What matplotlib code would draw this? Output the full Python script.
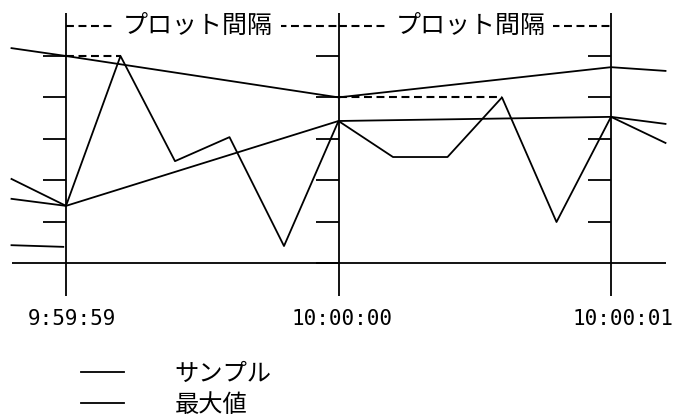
import matplotlib
matplotlib.use('Agg')
import matplotlib.pyplot as plt
import numpy as np

plt.rcParams['font.family'] = ['Noto Sans CJK JP', 'DejaVu Sans']

# ---- data (time in seconds from 9:59:59, value in tick levels) ----
tick_times = [0.0, 1.0, 2.0]
tick_labels = ['9:59:59', '10:00:00', '10:00:01']
sample_times = [-0.2, 0.0, 0.2, 0.4, 0.6, 0.8, 1.0, 1.2, 1.4, 1.6, 1.8, 2.0, 2.2]
sample_values = [2.03, 1.38, 5.0, 2.46, 3.04, 0.41, 3.43, 2.56, 2.56, 4.0, 0.99, 3.53, 2.9]
max_times = [-0.2, 0.0, 1.0, 2.0, 2.2]
max_values = [5.19, 5.0, 4.0, 4.73, 4.64]
plotted_times = [-0.2, 0.0, 1.0, 2.0, 2.2]
plotted_values = [1.55, 1.38, 3.43, 3.53, 3.36]
prev_times = [-0.2, -0.01]
prev_values = [0.43, 0.39]
levels = [0, 1, 2, 3, 4, 5]
interval_label = 'プロット間隔'
legend_labels = ['サンプル', '最大値']

# ---- figure ----
W, H = 675, 418
fig = plt.figure(figsize=(W / 100, H / 100), dpi=100)
ax = fig.add_axes([0, 0, 1, 1])
ax.axis('off')
px_per_s = 272.5
px_per_lvl = 41.4
x0_px, y0_px = 66, 263
ax.set_xlim(-x0_px / px_per_s, (W - x0_px) / px_per_s)
ax.set_ylim((y0_px - H) / px_per_lvl, y0_px / px_per_lvl)

lw = 1.3
col = 'black'
st = np.array(sample_times)
sv = np.array(sample_values)

# baseline
ax.hlines(levels[0], st.min(), st.max(), color=col, lw=lw)

# vertical interval lines (extend below baseline as x ticks)
header_level = 5.72
ax.vlines(tick_times, -0.8, 6.04, color=col, lw=lw)

# y ticks: short segments left of each vertical line
tick_len = 23 / px_per_s
for i, t in enumerate(tick_times):
    lv = levels if i == 1 else levels[1:]
    ax.hlines(lv, t - tick_len, t, color=col, lw=lw)

# series
l_sample, = ax.plot(sample_times, sample_values, color=col, lw=lw)
l_max, = ax.plot(max_times, max_values, color=col, lw=lw)
ax.plot(plotted_times, plotted_values, color=col, lw=lw)
ax.plot(prev_times, prev_values, color=col, lw=lw)

# dashed marker from interval start to interval max sample
dash = (0, (3.8, 2.2))
dlw = 1.5
for a, b in zip(tick_times[:-1], tick_times[1:]):
    m = (st >= a - 1e-9) & (st < b - 1e-9)
    k = np.argmax(sv[m])
    ax.hlines(sv[m][k], a, st[m][k], color=col, lw=dlw, linestyles=dash)

# header: dashed span with label
for a, b in zip(tick_times[:-1], tick_times[1:]):
    ax.hlines(header_level, a, b, color=col, lw=dlw, linestyles=dash)
    ax.annotate(interval_label, xy=((a + b) / 2, header_level), xytext=(-4, 0),
                textcoords='offset pixels', ha='center', va='center', fontsize=18,
                bbox=dict(boxstyle='square,pad=0.3', fc='white', ec='none'))

# x tick labels
offs = [6, 4, 12]
for t, lab, o in zip(tick_times, tick_labels, offs):
    ax.annotate(lab, xy=(t, -1.35), xytext=(o, 0), textcoords='offset pixels',
                ha='center', va='center', fontsize=15, family='DejaVu Sans Mono')

ax.legend(handles=[l_sample, l_max], labels=legend_labels, loc='upper left',
          bbox_to_anchor=(81 / W, 1 - 361 / H), bbox_transform=fig.transFigure,
          frameon=False, fontsize=17.5, handlelength=1.75, handletextpad=2.1,
          labelspacing=0.2, borderpad=0, borderaxespad=0)

fig.savefig('out.png', dpi=100)
